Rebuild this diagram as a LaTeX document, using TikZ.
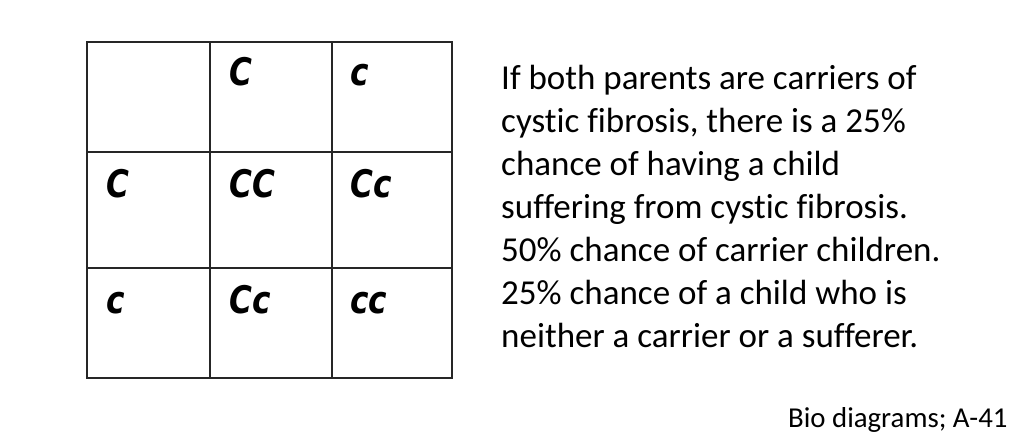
\documentclass[tikz,border=0pt]{standalone}
\usepackage{fontspec}
\setmainfont{Carlito}[Ligatures=NoCommon]
\newfontfamily\handfont{DejaVu Sans}[FakeStretch=0.82]
\tikzset{
  allele/.style={anchor=base west,inner sep=0pt,font=\handfont\bfseries\itshape\fontsize{38}{38}\selectfont},
  txt/.style={anchor=base west,inner sep=0pt,font=\fontsize{35}{35}\selectfont},
  grid line/.style={line width=1.3pt,black!85}
}
\begin{document}
\begin{tikzpicture}[x=1pt,y=-1pt]
\useasboundingbox (0,0) rectangle (1024,440);

%\clip(0,0) rectangle (1024,440);
  \draw[grid line] (87,42) rectangle (452,378);
  \draw[grid line] (210,42) -- (210,378);
  \draw[grid line] (332,42) -- (332,378);
  \draw[grid line] (87,152) -- (452,152);
  \draw[grid line] (87,268) -- (452,268);
  \node[allele] (p12) at (229,85) {C};
  \node[allele] (p13) at (350,85) {c};
  \node[allele] (p21) at (106,197) {C};
  \node[allele] (p22) at (229,197) {CC};
  \node[allele] (p23) at (350,197) {Cc};
  \node[allele] (p31) at (106,313) {c};
  \node[allele] (p32) at (229,313) {Cc};
  \node[allele] (p33) at (350,313) {cc};
  \node[txt] (l1) at (501,89) {If both parents are carriers of};
  \node[txt] (l2) at (501,132) {cystic fibrosis, there is a 25\%};
  \node[txt] (l3) at (501,175) {chance of having a child};
  \node[txt] (l4) at (501,218) {suffering from cystic fibrosis.};
  \node[txt] (l5) at (501,261) {50\% chance of carrier children.};
  \node[txt] (l6) at (501,304) {25\% chance of a child who is};
  \node[txt] (l7) at (501,347) {neither a carrier or a sufferer.};
  \node[anchor=base west,inner sep=0pt,font=\fontsize{28.8}{28.8}\selectfont] (src) at (788,427) {Bio diagrams; A-41};
 \end{tikzpicture}
\end{document}
